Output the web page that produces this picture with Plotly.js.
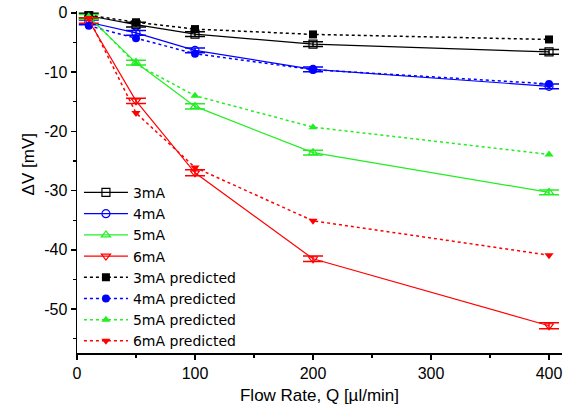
<!DOCTYPE html>
<html>
<head>
<meta charset="utf-8">
<script src="https://cdn.plot.ly/plotly-3.0.1.min.js"></script>
<style>html,body{margin:0;padding:0;background:#fff;}#chart{width:577px;height:412px;}</style>
</head>
<body>
<div id="chart"></div>
<script>
var flowRate = [10, 50, 100, 200, 400];

var meas3mA = [-0.5, -2.0, -3.6, -5.3, -6.6];
var meas4mA = [-1.6, -3.4, -6.35, -9.55, -12.4];
var meas5mA = [-0.7, -8.4, -15.8, -23.6, -30.3];
var meas6mA = [-1.3, -14.85, -27.0, -41.5, -52.8];

var err3mA = [0.4, 0.4, 0.4, 0.4, 0.4];
var err4mA = [0.4, 0.4, 0.4, 0.4, 0.4];
var err5mA = [0.4, 0.4, 0.45, 0.4, 0.4];
var err6mA = [0.45, 0.45, 0.5, 0.45, 0.5];

var pred3mA = [-0.4, -1.6, -2.75, -3.65, -4.5];
var pred4mA = [-2.2, -4.3, -6.9, -9.6, -12.0];
var pred5mA = [-0.6, -8.65, -14.0, -19.3, -23.9];
var pred6mA = [-0.9, -16.9, -26.1, -35.1, -40.9];

var xTickVals = [0, 100, 200, 300, 400];
var yTickVals = [0, -10, -20, -30, -40, -50];
var yTickText = ['0', '-10', '-20', '-30', '-40', '-50'];

var names = ['3mA', '4mA', '5mA', '6mA'];
var colors = ['#000000', '#0000ff', '#22ee22', '#ff0000'];
var openSymbols = ['square-open', 'circle-open', 'triangle-up-open', 'triangle-down-open'];
var filledSymbols = ['square', 'circle', 'triangle-up', 'triangle-down'];
var measured = [meas3mA, meas4mA, meas5mA, meas6mA];
var errors = [err3mA, err4mA, err5mA, err6mA];
var predicted = [pred3mA, pred4mA, pred5mA, pred6mA];

var traces = [];
for (var i = 0; i < 4; i++) {
  traces.push({
    x: flowRate, y: measured[i], name: names[i], type: 'scatter', mode: 'lines+markers',
    line: {color: colors[i], width: 1.2},
    marker: {symbol: openSymbols[i], size: 8, color: colors[i], line: {width: 1.2, color: colors[i]}},
    error_y: {type: 'data', array: errors[i], visible: true, color: colors[i], thickness: 1.5, width: 10}
  });
}
for (var j = 0; j < 4; j++) {
  traces.push({
    x: flowRate, y: predicted[j], name: names[j] + ' predicted', type: 'scatter', mode: 'lines+markers',
    line: {color: colors[j], width: 1.5, dash: 'dot'},
    marker: {symbol: filledSymbols[j], size: 8, color: colors[j]}
  });
}

var fontFam = 'Liberation Sans, Arial, sans-serif';
var layout = {
  width: 577, height: 412,
  margin: {l: 77, r: 15, t: 11, b: 59},
  paper_bgcolor: '#ffffff', plot_bgcolor: '#ffffff',
  showlegend: true,
  font: {family: fontFam, size: 16, color: '#000'},
  xaxis: {
    range: [0, 411], showgrid: false, zeroline: false,
    showline: true, linecolor: '#000', linewidth: 1.5,
    ticks: 'outside', ticklen: 5, tickwidth: 1.5, tickcolor: '#000',
    tickvals: xTickVals,
    minor: {tickvals: [50, 150, 250, 350], ticks: 'outside', ticklen: 3, tickwidth: 1.2, tickcolor: '#000'},
    tickfont: {family: fontFam, size: 16},
    title: {text: 'Flow Rate, Q [\u00b5l/min]', font: {family: fontFam, size: 17}, standoff: 8}
  },
  yaxis: {
    range: [-57.4, 0.3], showgrid: false, zeroline: false,
    showline: true, linecolor: '#000', linewidth: 1.5,
    ticks: 'outside', ticklen: 5, tickwidth: 1.5, tickcolor: '#000',
    tickvals: yTickVals, ticktext: yTickText,
    minor: {tickvals: [-5, -15, -25, -35, -45, -55], ticks: 'outside', ticklen: 3, tickwidth: 1.2, tickcolor: '#000'},
    tickfont: {family: fontFam, size: 16}
  },
  legend: {
    x: 0.004, y: 0.515, xanchor: 'left', yanchor: 'top',
    bgcolor: 'rgba(0,0,0,0)', borderwidth: 0,
    font: {family: 'DejaVu Sans, sans-serif', size: 14},
    itemwidth: 44, tracegroupgap: 0
  },
  annotations: [{
    text: '\u0394V [mV]', xref: 'paper', yref: 'paper', x: -0.1, y: 0.55,
    xanchor: 'center', yanchor: 'middle', textangle: -90, showarrow: false,
    font: {family: fontFam, size: 17}
  }]
};

Plotly.newPlot('chart', traces, layout, {displayModeBar: false, staticPlot: true});
</script>
</body>
</html>
